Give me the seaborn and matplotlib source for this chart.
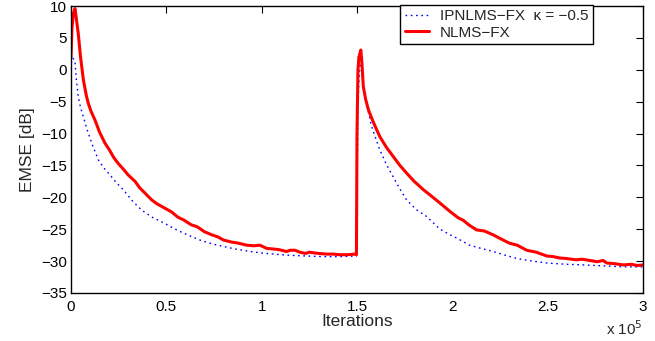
import matplotlib
matplotlib.use("Agg")
import matplotlib.pyplot as plt
import seaborn as sns
import numpy as np
import pandas as pd

# iterations in units of 1e5, EMSE in dB
nlms_it = [0.000, 0.005, 0.012, 0.021, 0.028, 0.038, 0.050, 0.065, 0.080, 0.091,
           0.105, 0.126, 0.150, 0.178, 0.200, 0.225, 0.248, 0.275, 0.300, 0.336,
           0.360, 0.390, 0.423, 0.450, 0.480, 0.510, 0.528, 0.560, 0.594, 0.630,
           0.660, 0.676, 0.700, 0.740, 0.770, 0.800, 0.840, 0.880, 0.920, 0.960,
           0.990, 1.026, 1.060, 1.090, 1.130, 1.150, 1.175, 1.200, 1.230, 1.250,
           1.270, 1.300, 1.340, 1.375, 1.410, 1.450, 1.490, 1.497, 1.500, 1.505,
           1.510, 1.520, 1.526, 1.533, 1.545, 1.560, 1.580, 1.600, 1.620, 1.655,
           1.690, 1.725, 1.760, 1.800, 1.848, 1.890, 1.935, 1.987, 2.030, 2.057,
           2.090, 2.127, 2.170, 2.215, 2.260, 2.300, 2.340, 2.390, 2.440, 2.495,
           2.530, 2.560, 2.600, 2.650, 2.680, 2.720, 2.760, 2.790, 2.810, 2.850,
           2.897, 2.940, 2.970, 3.000]
nlms_db = [2.0, 6.5, 8.8, 9.6, 8.0, 5.7, 2.0, -1.6, -4.0, -5.3,
           -6.5, -7.9, -9.8, -11.5, -12.5, -13.8, -14.7, -15.6, -16.5, -17.5,
           -18.5, -19.4, -20.4, -21.0, -21.5, -22.0, -22.3, -23.1, -23.6, -24.3,
           -24.6, -24.9, -25.4, -25.9, -26.2, -26.7, -27.0, -27.2, -27.5, -27.6,
           -27.5, -28.0, -28.1, -28.2, -28.5, -28.3, -28.3, -28.6, -28.8, -28.6,
           -28.7, -28.8, -28.9, -28.9, -29.0, -29.0, -28.9, -29.0, -10.0, 0.0,
           2.0, 3.1, 1.0, -2.6, -4.6, -6.3, -7.8, -9.2, -10.5, -12.2,
           -13.6, -15.0, -16.2, -17.5, -18.8, -19.8, -20.9, -22.2, -23.2, -23.6,
           -24.4, -25.1, -25.3, -25.9, -26.6, -27.2, -27.5, -28.3, -28.6, -29.2,
           -29.3, -29.5, -29.6, -29.8, -29.7, -29.9, -30.1, -29.9, -30.3, -30.4,
           -30.6, -30.5, -30.7, -30.6]

ipn_it = [0.000, 0.010, 0.020, 0.028, 0.038, 0.050, 0.065, 0.080, 0.091, 0.115,
          0.143, 0.170, 0.196, 0.235, 0.274, 0.320, 0.370, 0.430, 0.493, 0.540,
          0.589, 0.676, 0.740, 0.800, 0.860, 0.920, 0.990, 1.060, 1.150, 1.236,
          1.320, 1.410, 1.490, 1.497, 1.505, 1.515, 1.520, 1.530, 1.542, 1.560,
          1.577, 1.600, 1.620, 1.655, 1.690, 1.725, 1.760, 1.810, 1.865, 1.935,
          1.990, 2.030, 2.090, 2.150, 2.215, 2.280, 2.340, 2.420, 2.495, 2.600,
          2.690, 2.760, 2.830, 2.900, 3.000]
ipn_db = [1.0, 1.8, 1.5, -1.5, -4.2, -5.9, -7.4, -8.9, -10.0, -12.0,
          -14.1, -15.3, -16.2, -17.6, -18.8, -20.5, -22.0, -23.2, -24.1, -24.9,
          -25.6, -26.7, -27.3, -27.7, -28.1, -28.4, -28.7, -28.9, -29.1, -29.2,
          -29.3, -29.3, -29.2, -29.2, -5.0, 1.0, 1.0, -1.8, -4.2, -6.7,
          -8.9, -10.9, -12.6, -14.9, -16.8, -18.7, -20.4, -21.9, -23.0, -25.0,
          -25.9, -26.5, -27.5, -28.0, -28.5, -29.1, -29.6, -30.0, -30.3, -30.5,
          -30.6, -30.7, -30.8, -30.9, -30.9]

xticks = [0, 0.5, 1, 1.5, 2, 2.5, 3]
xtick_labels = ["0", "0.5", "1", "1.5", "2", "2.5", "3"]
yticks = list(range(-35, 11, 5))

df_nlms = pd.DataFrame({"it": np.array(nlms_it) * 1e5, "db": nlms_db})
df_ipn = pd.DataFrame({"it": np.array(ipn_it) * 1e5, "db": ipn_db})

sns.set_style("white")
plt.rcParams["font.family"] = ["Liberation Sans", "DejaVu Sans"]

fig = plt.figure(figsize=(6.55, 3.41), dpi=100)
ax = fig.add_axes([0.1084, 0.1408, 0.8733, 0.8416])

sns.lineplot(data=df_ipn, x="it", y="db", ax=ax, color="blue", lw=1.0,
             dashes=False, label="IPNLMS\u2212FX  \u03ba = \u22120.5")
ax.lines[-1].set_dashes((1.2, 2.6))
sns.lineplot(data=df_nlms, x="it", y="db", ax=ax, color="red", lw=2.2,
             label="NLMS\u2212FX")

ax.set_xlim(0, 3e5)
ax.set_ylim(-35, 10)
ax.set_xticks([t * 1e5 for t in xticks])
ax.set_xticklabels(xtick_labels)
ax.set_yticks(yticks)
ax.tick_params(direction="in", length=5, width=0.8, top=True, right=True,
               labelsize=11, colors="black")
ax.tick_params(axis="y", pad=3)
ax.tick_params(axis="x", pad=5)
for s in ax.spines.values():
    s.set_color("black")
    s.set_linewidth(1.0)

ax.set_xlabel("Iterations", fontsize=12.5, labelpad=0)
ax.set_ylabel("EMSE [dB]", fontsize=12.5, labelpad=4)
fig.text(0.982, 0.01, r"x 10$^5$", ha="right", va="bottom", fontsize=11)

leg = ax.legend(loc="upper right", bbox_to_anchor=(0.913, 1.004),
                borderaxespad=0, fancybox=False, framealpha=1,
                edgecolor="black", fontsize=11, handlelength=1.6,
                borderpad=0.3, labelspacing=0.15, handletextpad=0.7)
leg.get_frame().set_linewidth(1.0)
leg.get_lines()[0].set_dashes((1.2, 2.6))

fig.savefig("out.png", dpi=100)
